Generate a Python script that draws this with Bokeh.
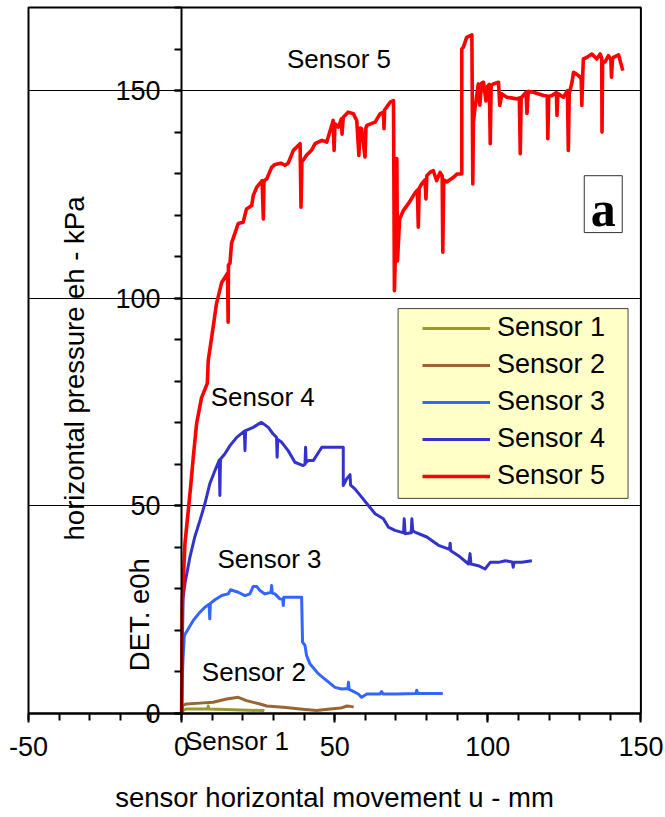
import math
from bokeh.plotting import figure
from bokeh.models import (Range1d, FixedTicker, Label, Legend, LegendItem, BoxAnnotation)
from bokeh.embed import file_html
from bokeh.resources import INLINE

# ---------------- data ----------------
sensor_names = ["Sensor 1", "Sensor 2", "Sensor 3", "Sensor 4", "Sensor 5"]
sensor_colors = ["#999933", "#996633", "#3366FF", "#3333CC", "#FF0000"]

s1_u = [0, 0.3, 1.6, 6, 8.5, 8.7, 8.9, 16.9, 26.7, 27]
s1_v = [0, 0.7, 1.1, 1.1, 1.1, 1.8, 1.1, 0.9, 0.7, 0.6]

s2_u = [0, 0.3, 1.6, 6, 10.3, 14.7, 18.5, 21.2, 25.6, 27.8, 33.2, 38.7, 44.1, 48.5, 52, 54, 56.2]
s2_v = [0, 1.9, 2.3, 2.5, 2.7, 3.5, 3.9, 3.1, 2.3, 1.8, 1.5, 1.1, 0.7, 1.1, 1.3, 1.8, 1.6]

s3_u = [0, 0.2, 0.5, 0.9, 2.2, 3.8, 6, 7.6, 9.0, 9.2, 9.4, 10.9, 13.1, 15.2, 16.0, 18.5,
        20.7, 22.3, 23.4, 24.5, 25.6, 27.2, 29.2, 29.4, 29.6, 30.5, 32.1, 33.0, 33.2, 33.4,
        34.3, 39.2, 39.5, 40.3, 40.8, 41.9, 44.6, 47.4, 50.1, 52.3, 54.3, 54.5, 54.7, 55.6,
        57.7, 58.8, 60.5, 64.8, 65.3, 65.8, 70.3, 76.5, 76.8, 77.1, 80, 85.3]
s3_v = [0, 8, 13.6, 18.8, 20.4, 22.4, 24.4, 25.6, 26.3, 22.8, 26.5, 27.4, 28.4, 28.8, 29.8, 29.2,
        28.4, 28.8, 30.6, 30.6, 29.6, 28.8, 29.2, 30.8, 29.0, 28.8, 27.6, 27.5, 26.0, 28.0,
        28.0, 28.0, 17.2, 16.4, 14.0, 12.0, 9.6, 7.9, 6.3, 5.9, 6.0, 7.5, 5.8, 5.5,
        4.7, 3.9, 4.7, 4.7, 5.3, 4.7, 4.7, 4.8, 5.6, 4.8, 4.8, 4.8]

s4_u = [0, 0.2, 0.5, 1.1, 2.7, 4.3, 6, 7.6, 9.2, 10.9, 12.3, 12.5, 12.7, 14.1, 15.8, 18, 20.5,
        20.7, 20.9, 23.4, 25.9, 26.1, 28.3, 29.9, 31.0, 31.2, 31.4, 32.7, 34.8, 37, 39.7, 40.3,
        40.5, 40.7, 41.4, 43, 45.8, 52.8, 52.8, 53.9, 55.0, 55.2, 56.6, 58.8, 61, 63.2, 65.9,
        67.5, 69.7, 72.5, 72.7, 73, 75.0, 75.2, 75.5, 76.2, 80.1, 83.9, 87.5, 87.7, 87.9, 90.4,
        93.7, 94.2, 94.5, 96.9, 99.1, 100.8, 103.5, 105.7, 108, 108.3, 108.6, 111.1, 114.4]
s4_v = [0, 15, 28, 31.3, 37.6, 42.5, 46.5, 50.5, 55.3, 58.5, 61, 52.5, 61.3, 62.5, 64.5, 66.5, 68,
        63.3, 68.1, 68.9, 70.1, 70.1, 68.9, 67.3, 66.5, 61.7, 66.0, 65.3, 63.3, 60.5, 59.7, 60,
        64.1, 60.5, 60.9, 60.9, 64.1, 64.1, 54.9, 56.5, 57.5, 55.0, 54.1, 52.1, 50.1, 48.1, 46.9,
        44.9, 44.1, 43.5, 46.9, 43.3, 43.5, 46.9, 44.0, 43.7, 42.5, 40.5, 39.5, 41.0, 39.2, 38.0,
        36.0, 38.5, 36.0, 35.6, 34.8, 36.4, 36.4, 36.8, 36.5, 35.2, 36.4, 36.4, 36.8]

s5_u = [0, 0.2, 1.1, 2.2, 3.0, 3.8, 4.9, 6.5, 8.4, 8.7, 10.3, 11.4, 13.1, 15.0, 15.2, 15.3,
        15.8, 16.3, 17.4, 18.5, 20.1, 21.2, 22.9, 23.4, 24.5, 26.3, 26.7, 26.9, 27.8, 29.4,
        30.5, 32.4, 33.8, 34.8, 36.5, 38.7, 39.0, 39.3, 39.7, 40.8, 42.5, 43.6, 45.8, 47.4,
        47.9, 49.5, 49.8, 50.1, 51.2, 52.2, 52.4, 52.8, 54.4, 56.1, 57.2, 57.9, 58.3, 58.8,
        59.9, 60.2, 60.5, 63.2, 64.8, 65.9, 66.1, 66.3, 68.1, 69.2, 69.5, 70.0, 70.3, 70.5,
        71.2, 72.4, 74, 76.2, 77.0, 77.3, 77.6, 78.4, 79.5, 79.8, 80.1, 81.1, 82.2, 83.3, 84.4,
        85.1, 85.3, 85.6, 86.6, 88.8, 89.9, 91.5, 91.5, 92, 93.1, 94.8, 95.1, 95.3, 95.8, 96.9,
        97.4, 98.0, 98.6, 99.4, 99.7, 100.5, 100.8, 101.1, 101.8, 103.5, 103.9, 104.6, 106.2,
        109.5, 110.3, 110.6, 110.9, 111.1, 112.5, 112.8, 113.2, 114.9, 118.2, 119.4, 119.6,
        119.9, 120.9, 122.4, 122.6, 122.9, 124.7, 126, 126.3, 126.6, 127.5, 128, 129.6, 130.5,
        130.7, 131.0, 131.2, 132.4, 134, 135.6, 136.7, 137.2, 137.3, 137.5, 138.3, 139.4, 140.2,
        140.4, 140.7, 141, 142.7, 144.1]
s5_v = [0, 26.5, 41, 49, 55, 61.6, 69.8, 76, 79.5, 85, 93, 98.7, 103.8, 106, 94.2, 108,
        108.4, 113.2, 115.6, 118, 118.3, 121.5, 122.3, 124.7, 126.7, 128.3, 119.1, 128.3, 128.7, 131.5,
        132.2, 132.5, 132, 132.5, 135.6, 137.2, 121.9, 133.2, 133.2, 134.4, 135.7, 137.2, 138, 137.6,
        138.8, 142.8, 135.6, 142, 141.2, 143.2, 139.5, 143.6, 144.8, 144.4, 142.8, 134.4, 141, 140.8,
        134, 141, 141.6, 142.4, 144.4, 144.8, 140.8, 145.3, 147.2, 147.6, 101.8, 115, 133.6, 109,
        119, 121.1, 122.7, 125.3, 126, 117.1, 126.5, 127.5, 128.5, 123.9, 129.5, 130.3, 130.7, 128.3, 130.3,
        129.5, 111.1, 128.5, 128, 129.1, 129.9, 129.9, 160, 160.4, 162.8, 163.4, 127.5, 142.4, 145.6, 151.6,
        146.5, 151.8, 152, 147.5, 150.8, 151.5, 137.2, 151.2, 151.6, 152, 146.4, 149.2, 148.4,
        148, 148.2, 134.8, 148.4, 148.4, 149.6, 144.5, 149.8, 149.6, 148.8, 148.7, 138.4,
        148.6, 148.8, 149.5, 144, 149.3, 148.4, 150, 135.6, 149.2, 152, 154.4, 153.6, 153,
        146.4, 153.5, 157.6, 158, 158.8, 157.6, 158.8, 157.8, 140, 157, 156.9, 158.4, 157.5,
        153.2, 157.5, 158, 158.6, 154.8]

x_min, x_max = -50, 150
y_min, y_max = 0, 170
x_major_ticks = [-50, 0, 50, 100, 150]
x_tick_labels = ["-50", "0", "50", "100", "150"]
y_major_ticks = [0, 50, 100, 150]
grid_levels = [50, 100, 150]

x_title = "sensor horizontal movement u - mm"
y_title = "horizontal pressure eh  - kPa"
y_subtitle = "DET. e0h"
panel_tag = "a"

FONT = "Liberation Sans"
FS_TICK = "27px"
FS_TITLE = "27.5px"
FS_LEG = "27px"
FS_LAB = "26px"

# The plotting frame fills the whole page (so texts outside the axes box are not clipped);
# the axes box itself is drawn as an annotation.  Reference scale: 3.062 px/mm, 4.153 px/kPa,
# axes box from x=28 px to 640 px and y=7 px to 713 px.
W, H = 665, 817
PX_X, PX_Y = 3.062, 4.153
x_lo = x_min - 28 / PX_X
x_hi = x_lo + W / PX_X
y_hi = y_max + 7 / PX_Y
y_lo = y_hi - H / PX_Y

p = figure(width=W, height=H, x_range=Range1d(x_lo, x_hi), y_range=Range1d(y_lo, y_hi),
           output_backend="svg", toolbar_location=None,
           min_border_left=0, min_border_right=0, min_border_top=0, min_border_bottom=0)
p.background_fill_color = "white"
p.border_fill_color = "white"
p.outline_line_color = None

# x axis drawn at y = 0
xa = p.xaxis[0]
xa.fixed_location = 0
xa.bounds = (x_min, x_max)
xa.ticker = FixedTicker(ticks=x_major_ticks, minor_ticks=list(range(-50, 151, 10)))
xa.major_label_overrides = {t: s for t, s in zip(x_major_ticks, x_tick_labels)}
xa.axis_line_width = 2
xa.major_tick_line_width = 2
xa.minor_tick_line_width = 2
xa.major_tick_out = 9
xa.major_tick_in = 0
xa.minor_tick_out = 7
xa.minor_tick_in = 0
xa.major_label_text_font = FONT
xa.major_label_text_font_size = FS_TICK
xa.major_label_text_color = "black"
xa.major_label_standoff = 14
xa.axis_label = x_title
xa.axis_label_text_font = FONT
xa.axis_label_text_font_size = FS_TITLE
xa.axis_label_text_font_style = "normal"
xa.axis_label_text_color = "black"
xa.axis_label_standoff = 23

# y axis crossing at x = 0
ya = p.yaxis[0]
ya.fixed_location = 0
ya.bounds = (y_min, y_max)
ya.ticker = FixedTicker(ticks=y_major_ticks, minor_ticks=list(range(0, 171, 10)))
ya.axis_line_width = 2
ya.major_tick_line_width = 2
ya.minor_tick_line_width = 2
ya.major_tick_out = 7
ya.major_tick_in = 0
ya.minor_tick_out = 7
ya.minor_tick_in = 0
ya.major_label_text_font = FONT
ya.major_label_text_font_size = FS_TICK
ya.major_label_text_color = "black"
ya.major_label_standoff = 14

p.xgrid.visible = False
p.ygrid.ticker = FixedTicker(ticks=grid_levels)
p.ygrid.cross_bounds = (x_min, x_max)
p.ygrid.grid_line_color = "black"
p.ygrid.grid_line_width = 1
p.ygrid.grid_line_alpha = 1

# axes box
p.add_layout(BoxAnnotation(left=x_min, right=x_max, bottom=y_min, top=y_max,
                           fill_color=None, fill_alpha=0, line_color="black", line_alpha=1,
                           line_width=2, level="underlay"))

series = [(s1_u, s1_v), (s2_u, s2_v), (s3_u, s3_v), (s4_u, s4_v), (s5_u, s5_v)]
widths = [3, 3, 3, 3, 3.6]
renderers = []
for (u, v), c, w in zip(series, sensor_colors, widths):
    r = p.line(u, v, line_color=c, line_width=w, line_join="round")
    renderers.append(r)

# legend background box
p.add_layout(BoxAnnotation(left=70.7, right=145.8, bottom=51.8, top=97.5,
                           fill_color="#FFFFC8", fill_alpha=1,
                           line_color="#444444", line_alpha=1, line_width=1, level="annotation"))
legend = Legend(items=[LegendItem(label=n, renderers=[r]) for n, r in zip(sensor_names, renderers)],
                location=(422, 326), padding=0, margin=0, spacing=6,
                glyph_width=68, glyph_height=30, label_height=30, label_standoff=7,
                border_line_alpha=0, background_fill_alpha=0,
                label_text_font=FONT, label_text_font_size=FS_LEG, label_text_color="black")
p.add_layout(legend, "center")

# panel tag "a"
p.add_layout(BoxAnnotation(left=131.5, right=143.9, bottom=115.8, top=129.5,
                           fill_color="white", fill_alpha=1, line_color="#333333",
                           line_alpha=1, line_width=1, level="annotation"))
p.add_layout(Label(x=137.7, y=121.6, text=panel_tag, text_align="center",
                   text_baseline="alphabetic", text_font="Liberation Serif",
                   text_font_style="bold", text_font_size="50px", text_color="black"))

# sensor name labels
label_pos = {"Sensor 5": (51.4, 157.5), "Sensor 4": (26.5, 76.1), "Sensor 3": (28.7, 37.3),
             "Sensor 2": (23.6, 9.9), "Sensor 1": (18.1, -6.5)}
for name, (lx, ly) in label_pos.items():
    p.add_layout(Label(x=lx, y=ly, text=name, text_align="center", text_baseline="middle",
                       text_font=FONT, text_font_size=FS_LAB, text_color="black"))

# y-axis titles (rotated)
p.add_layout(Label(x=-34.9, y=84.0, text=y_title, angle=math.pi / 2, text_align="center",
                   text_baseline="middle", text_font=FONT, text_font_size=FS_TITLE, text_color="black"))
p.add_layout(Label(x=-13.6, y=23.8, text=y_subtitle, angle=math.pi / 2, text_align="center",
                   text_baseline="middle", text_font=FONT, text_font_size=FS_TITLE, text_color="black"))

open("out.html", "w").write(file_html(p, INLINE))
